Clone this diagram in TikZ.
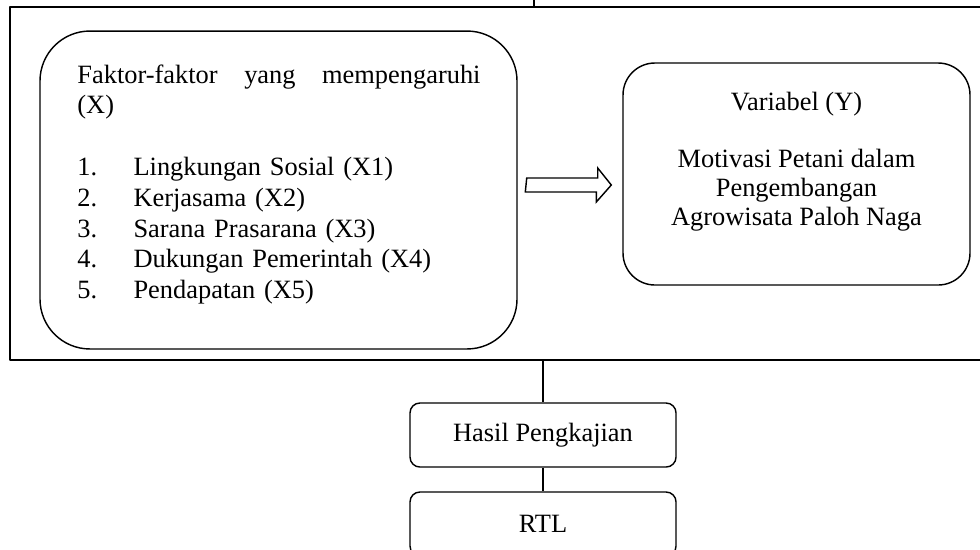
\documentclass[tikz,border=0pt]{standalone}
\usepackage{fontspec}
\setmainfont{Liberation Serif}
\usetikzlibrary{calc}

\begin{document}
\begin{tikzpicture}[
            x = 0.4545pt, % one pixel of the sketch
            y = -0.4545pt, % y grows downwards
            font = \fontsize{12}{14}\selectfont,
            line join = round
        ]

        \tikzstyle{box}=[
            draw = black,
            line width = 0.65pt,
            inner sep = 0pt
        ]
        \tikzstyle{bigbox}=[box, rounded corners = 22.7pt, minimum width = 216.8pt, minimum height = 144.5pt]
        \tikzstyle{ybox}=[box, rounded corners = 14.5pt, minimum width = 157.7pt, minimum height = 100.9pt]
        \tikzstyle{smallbox}=[box, rounded corners = 4.5pt, minimum width = 120.9pt, minimum height = 29.1pt]
        \tikzstyle{link}=[draw = black, line width = 0.5pt]

        \clip (0,0) rectangle (980,549);

        % outer frame
        \node[draw, line width = 0.7pt, inner sep = 0pt, minimum width = 445.4pt, minimum height = 160.4pt] (frame) at (500,183.5) {};

        \node[bigbox] (faktor) at (278.5,190) {};
        \node[ybox] (variabel) at (796.5,174) {};
        \node[smallbox] (hasil) at (543,435) {Hasil Pengkajian};
        \node[smallbox] (rtl) at (543,524) {RTL};

        \node[anchor = north west, inner sep = 0pt, text width = 183.2pt, align = left] (faktortext) at (77,64) {%
            \makebox[183.2pt][l]{Faktor-faktor\hfill yang\hfill mempengaruhi}\\
            (X)\\[14pt]
            \makebox[25.5pt][l]{1.}Lingkungan Sosial (X1)\\
            \makebox[25.5pt][l]{2.}Kerjasama (X2)\\
            \makebox[25.5pt][l]{3.}Sarana Prasarana (X3)\\
            \makebox[25.5pt][l]{4.}Dukungan Pemerintah (X4)\\
            \makebox[25.5pt][l]{5.}Pendapatan (X5)};
        \node[anchor = north, inner sep = 0pt, align = center, font = \fontsize{12}{13}\selectfont] (variabeltext) at (796.5,92) {%
            Variabel (Y)\\[13pt]
            Motivasi Petani dalam\\
            Pengembangan\\
            Agrowisata Paloh Naga};

        % hollow arrow between the two boxes
        \coordinate (arrowtail) at ($(faktor.east)+(9,-5)$);
        \coordinate (arrowtip) at ($(variabel.west |- arrowtail)+(-11,0)$);
        \draw[line width = 0.65pt, line join = miter] (arrowtail) ++(0,-7) -- ++(71,0) -- ++(0,-10) -- (arrowtip)
            -- ++(-15,17) -- ++(0,-10) -- ++(-71,0) -- cycle;

        \coordinate (topend) at (534,-5);
        \path[link] (topend) -- (topend |- frame.north);
        \path[link] (hasil.north |- frame.south) -- (hasil.north);
        \path[link] (hasil) -- (rtl);

    \end{tikzpicture}
\end{document}
